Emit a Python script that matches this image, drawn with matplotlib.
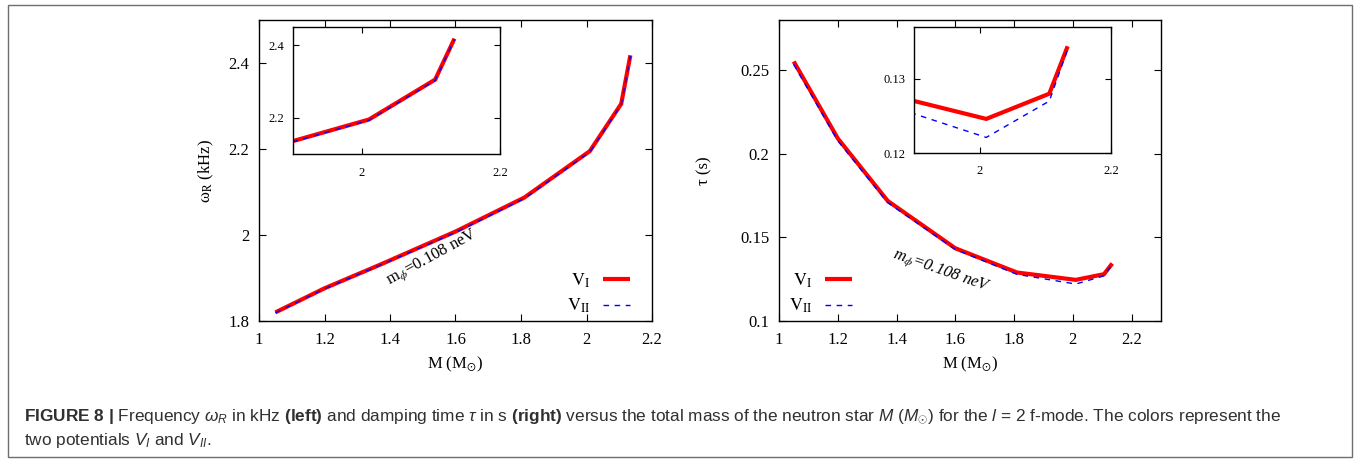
import matplotlib
matplotlib.use("Agg")
import matplotlib.pyplot as plt
from matplotlib import font_manager
from matplotlib.patches import Rectangle
from matplotlib.ticker import FormatStrFormatter, MultipleLocator

# stellar masses (M_sun) of the sequence
mass = [1.05, 1.2, 1.37, 1.6, 1.81, 2.01, 2.106, 2.134]
# f-mode frequency (kHz) for the two potentials
omega_v1 = [1.820, 1.876, 1.931, 2.008, 2.087, 2.195, 2.305, 2.418]
omega_v2 = [1.819, 1.875, 1.930, 2.006, 2.085, 2.193, 2.303, 2.416]
# damping time (s)
tau_v1 = [0.2552, 0.2092, 0.1718, 0.1435, 0.1290, 0.1246, 0.1280, 0.1344]
tau_v2 = [0.2535, 0.2078, 0.1708, 0.1428, 0.1279, 0.1221, 0.1270, 0.1340]

W, H = 1354, 459

names = {f.name for f in font_manager.fontManager.ttflist}
cap_font = "Liberation Sans Narrow" if "Liberation Sans Narrow" in names else "Liberation Sans"

plt.rcParams["font.family"] = ["Liberation Serif", "DejaVu Serif"]
plt.rcParams["mathtext.fontset"] = "stix"
plt.rcParams["mathtext.rm"] = cap_font
plt.rcParams["mathtext.it"] = cap_font + ":italic"
plt.rcParams["mathtext.bf"] = cap_font + ":bold"

fig = plt.figure(figsize=(W / 100, H / 100), dpi=100)


def px_axes(x0, y0, x1, y1):
    return fig.add_axes([x0 / W, 1 - y1 / H, (x1 - x0) / W, (y1 - y0) / H])


def gnuplot_frame(ax, size, length, xpad, ypad):
    ax.tick_params(which="both", direction="in", top=True, right=True,
                   labelsize=size, length=length, width=0.8)
    ax.tick_params(axis="x", pad=xpad)
    ax.tick_params(axis="y", pad=ypad)
    for sp in ax.spines.values():
        sp.set_linewidth(1.0)
    ax.xaxis.set_major_formatter(FormatStrFormatter("%g"))
    ax.yaxis.set_major_formatter(FormatStrFormatter("%g"))


def draw_pair(ax, y1, y2):
    ax.plot(mass, y1, color="#ff0000", lw=3.0, solid_capstyle="butt",
            solid_joinstyle="miter", label=r"$\mathrm{V}_{\mathrm{I}}$")
    ax.plot(mass, y2, color="#0000ff", lw=1.0, dashes=(4, 4),
            label=r"$\mathrm{V}_{\mathrm{II}}$")


# ---- left: frequency
ax1 = px_axes(259, 20, 652, 321)
draw_pair(ax1, omega_v1, omega_v2)
ax1.set_xlim(1, 2.2)
ax1.set_ylim(1.8, 2.5)
ax1.xaxis.set_major_locator(MultipleLocator(0.2))
ax1.yaxis.set_major_locator(MultipleLocator(0.2))
gnuplot_frame(ax1, 12, 5, 8, 7)
ax1.set_xlabel(r"M (M$_{\odot}$)", fontsize=12, labelpad=5)
ax1.set_ylabel(r"ω$_{\mathrm{R}}$ (kHz)", fontsize=12, labelpad=9)
ax1.text(1.53, 1.948, r"m$_{\phi}$=0.108 neV", fontsize=12, rotation=28.7,
         rotation_mode="anchor", ha="center", va="center")
ax1.legend(loc="lower right", bbox_to_anchor=(0.962, -0.005), frameon=False,
           markerfirst=False, fontsize=13, handlelength=1.5, handletextpad=0.7,
           labelspacing=0.4, borderaxespad=0)

in1 = px_axes(293, 27, 500, 154)
draw_pair(in1, omega_v1, omega_v2)
in1.set_xlim(1.9, 2.2)
in1.set_ylim(2.1, 2.45)
in1.xaxis.set_major_locator(MultipleLocator(0.2))
in1.yaxis.set_major_locator(MultipleLocator(0.2))
gnuplot_frame(in1, 9, 4, 9, 6)

# ---- right: damping time
ax2 = px_axes(779, 20, 1161, 321)
draw_pair(ax2, tau_v1, tau_v2)
ax2.set_xlim(1, 2.3)
ax2.set_ylim(0.1, 0.28)
ax2.xaxis.set_major_locator(MultipleLocator(0.2))
ax2.yaxis.set_major_locator(MultipleLocator(0.05))
gnuplot_frame(ax2, 12, 5, 8, 7)
ax2.set_xlabel(r"M (M$_{\odot}$)", fontsize=12, labelpad=5)
ax2.set_ylabel("τ (s)", fontsize=12, labelpad=20)
ax2.text(1.554, 0.1297, r"m$_{\phi}$=0.108 neV", fontsize=12, rotation=-19.3,
         style="italic", rotation_mode="anchor", ha="center", va="center")
ax2.legend(loc="lower left", bbox_to_anchor=(0.006, -0.005), frameon=False,
           markerfirst=False, fontsize=13, handlelength=1.5, handletextpad=0.7,
           labelspacing=0.4, borderaxespad=0)

in2 = px_axes(914, 27, 1111, 153)
draw_pair(in2, tau_v1, tau_v2)
in2.set_xlim(1.9, 2.2)
in2.set_ylim(0.12, 0.137)
in2.xaxis.set_major_locator(MultipleLocator(0.2))
in2.yaxis.set_major_locator(MultipleLocator(0.01))
gnuplot_frame(in2, 9, 4, 9, 6)

# ---- caption and page frame
fig.patches.append(Rectangle((8 / W, 1 - 457 / H), 1344 / W, 452 / H,
                             transform=fig.transFigure, fill=False,
                             edgecolor="#6e6e6e", lw=1.0))

line1 = (r"$\mathbf{FIGURE\ 8\ |}$ Frequency $\omega_R$ in kHz $\mathbf{(left)}$ "
         r"and damping time $\tau$ in s $\mathbf{(right)}$ versus the total mass "
         r"of the neutron star $M\ (M_{\odot})$ for the $l$ = 2 f-mode. "
         r"The colors represent the")
line2 = r"two potentials $V_I$ and $V_{II}$."
cap1 = fig.text(24 / W, 1 - 421 / H, line1, family=cap_font, fontsize=10,
                color="#303030", math_fontfamily="custom", va="baseline")
cap2 = fig.text(24 / W, 1 - 445 / H, line2, family=cap_font, fontsize=10,
                color="#303030", math_fontfamily="custom", va="baseline")

# stretch the caption to the page width
renderer = fig.canvas.get_renderer()
w = cap1.get_window_extent(renderer=renderer).width
size = 10 * 1255 / w
cap1.set_fontsize(size)
cap2.set_fontsize(size)

fig.savefig("out.png", dpi=100)
